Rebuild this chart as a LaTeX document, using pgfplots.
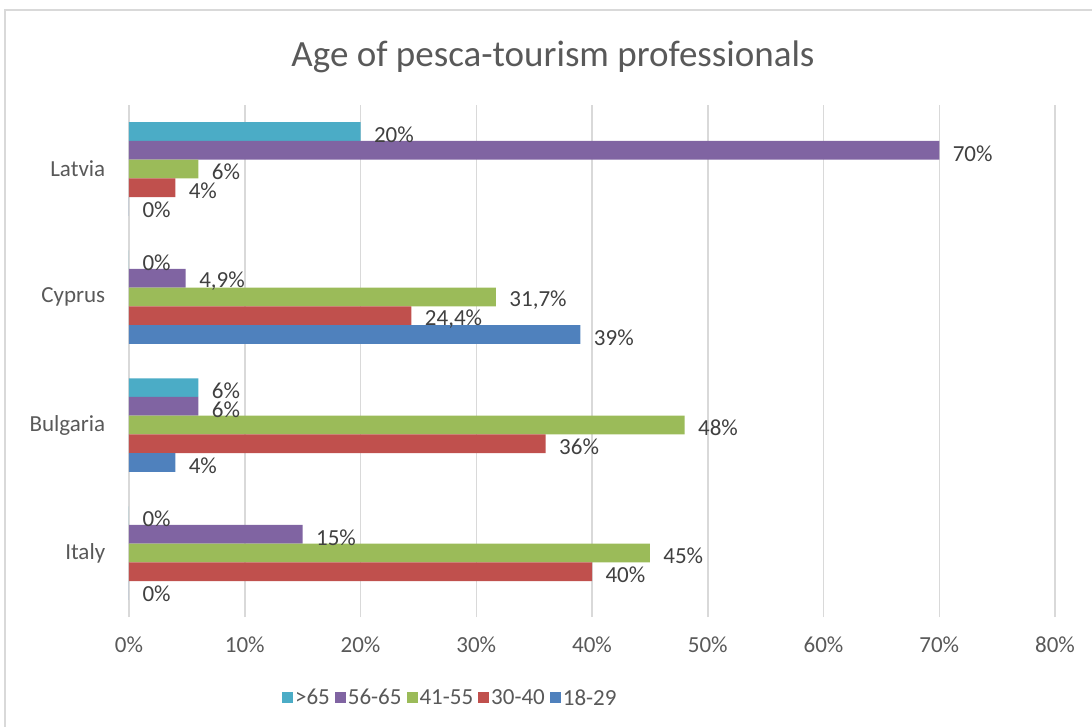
\documentclass[border=0pt]{standalone}
\usepackage{fontspec}
\setmainfont{Carlito}
\usepackage{pgfplots}
\pgfplotsset{compat=1.18}
\definecolor{txt}{HTML}{595959}
\definecolor{dtxt}{HTML}{404040}
\definecolor{cA}{HTML}{4BACC6}
\definecolor{cB}{HTML}{8064A2}
\definecolor{cC}{HTML}{9BBB59}
\definecolor{cD}{HTML}{C0504D}
\definecolor{cE}{HTML}{4F81BD}
\newcommand{\lbl}{\fontsize{23}{27}\selectfont}
\begin{document}
\begin{tikzpicture}[x=1pt,y=1pt]
\useasboundingbox (0,0) rectangle (1092,-727);
\draw[line width=1.5pt, color=gray!30] (5,-727) -- (5,-10) -- (1092,-10);
\node[font=\fontsize{37}{41}\selectfont, text=txt] at (553,-57) {Age of pesca-tourism professionals};
\begin{axis}[
  at={(129pt,-617pt)}, anchor=south west,
  scale only axis, width=926pt, height=512pt,
  xbar, bar width=18.7pt,
  xmin=0, xmax=80, ymin=-0.5, ymax=3.5,
  xtick={0,10,...,80},
  ytick={0,1,2,3},
  yticklabels={Italy,Bulgaria,Cyprus,Latvia},
  /pgf/number format/assume math mode=true,
  xticklabel={\pgfmathprintnumber{\tick}\%},
  xticklabel style={font=\lbl, text=txt, yshift=-16pt},
  yticklabel style={font=\lbl, text=txt, xshift=-16pt},
  xmajorgrids,
  major grid style={draw=gray!30, line width=1.5pt},
  axis line style={draw=none},
  tick style={draw=none},
  point meta=x,
  nodes near coords={\pgfmathprintnumber{\pgfplotspointmeta}\%},
  every node near coord/.append style={font=\lbl, text=dtxt, anchor=west, xshift=10pt, yshift=-3pt},
  /pgf/number format/use comma,
  legend columns=5,
  legend style={draw=none, font=\lbl, text=txt,
    at={(axis description cs:0.347,-0.158)}, anchor=center,
    /tikz/every even column/.append style={column sep=3pt}},
  legend image code/.code={\fill[#1] (0pt,-5.5pt) rectangle (11pt,5.5pt);},
]
\addplot[fill=cA, draw=none, bar shift=37.4pt] coordinates {(0,0) (6,1) (0,2) (20,3)};
\addlegendentry{>65}
\addplot[fill=cB, draw=none, bar shift=18.7pt] coordinates {(15,0) (6,1) (4.9,2) (70,3)};
\addlegendentry{56-65}
\addplot[fill=cC, draw=none, bar shift=0pt] coordinates {(45,0) (48,1) (31.7,2) (6,3)};
\addlegendentry{41-55}
\addplot[fill=cD, draw=none, bar shift=-18.7pt] coordinates {(40,0) (36,1) (24.4,2) (4,3)};
\addlegendentry{30-40}
\addplot[fill=cE, draw=none, bar shift=-37.4pt] coordinates {(0,0) (4,1) (39,2) (0,3)};
\addlegendentry{18-29}
\end{axis}
\end{tikzpicture}
\end{document}
